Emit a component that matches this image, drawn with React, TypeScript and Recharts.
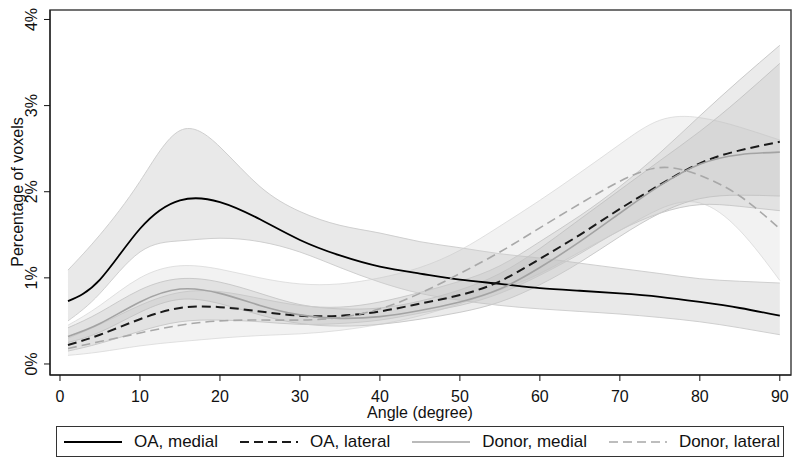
import { ComposedChart, Area, Line, XAxis, YAxis, Legend, ReferenceArea, Label } from 'recharts'

// angle (degree) and percentage of voxels
const angle = [1, 5, 10, 15, 20, 25, 30, 35, 40, 45, 50, 55, 60, 65, 70, 75, 80, 85, 90]

const oaMedial = [0.73, 0.98, 1.57, 1.90, 1.88, 1.68, 1.44, 1.26, 1.13, 1.05, 0.98, 0.93, 0.88, 0.85, 0.82, 0.78, 0.72, 0.65, 0.56]
const oaMedialLo = [0.50, 0.82, 1.30, 1.43, 1.46, 1.42, 1.30, 1.12, 0.95, 0.82, 0.74, 0.68, 0.64, 0.61, 0.58, 0.54, 0.49, 0.42, 0.34]
const oaMedialHi = [1.09, 1.50, 2.12, 2.71, 2.52, 2.06, 1.77, 1.61, 1.52, 1.42, 1.35, 1.28, 1.23, 1.17, 1.11, 1.05, 0.99, 0.96, 0.94]

const oaLateral = [0.22, 0.34, 0.52, 0.65, 0.66, 0.61, 0.56, 0.56, 0.61, 0.70, 0.80, 0.96, 1.22, 1.50, 1.80, 2.08, 2.33, 2.48, 2.58]
const oaLateralLo = [0.15, 0.24, 0.38, 0.49, 0.51, 0.49, 0.46, 0.47, 0.51, 0.59, 0.68, 0.82, 1.03, 1.28, 1.55, 1.75, 1.85, 1.83, 1.78]
const oaLateralHi = [0.30, 0.46, 0.68, 0.83, 0.84, 0.76, 0.68, 0.66, 0.72, 0.83, 0.96, 1.14, 1.42, 1.72, 2.06, 2.45, 2.88, 3.30, 3.70]

const donorMedial = [0.32, 0.47, 0.72, 0.87, 0.82, 0.68, 0.57, 0.53, 0.55, 0.62, 0.72, 0.87, 1.12, 1.42, 1.75, 2.07, 2.32, 2.43, 2.46]
const donorMedialLo = [0.25, 0.37, 0.60, 0.75, 0.70, 0.57, 0.47, 0.44, 0.46, 0.52, 0.60, 0.72, 0.92, 1.18, 1.48, 1.75, 1.92, 1.96, 1.95]
const donorMedialHi = [0.42, 0.60, 0.86, 0.99, 0.95, 0.82, 0.69, 0.64, 0.65, 0.73, 0.86, 1.05, 1.34, 1.68, 2.02, 2.36, 2.70, 3.08, 3.49]

const donorLateral = [0.18, 0.26, 0.36, 0.45, 0.50, 0.51, 0.51, 0.54, 0.64, 0.82, 1.05, 1.30, 1.58, 1.86, 2.12, 2.28, 2.19, 1.95, 1.57]
const donorLateralLo = [0.10, 0.14, 0.21, 0.26, 0.30, 0.33, 0.35, 0.39, 0.46, 0.56, 0.70, 0.86, 1.05, 1.30, 1.55, 1.80, 1.87, 1.55, 0.97]
const donorLateralHi = [0.45, 0.68, 1.00, 1.14, 1.10, 1.00, 0.93, 0.93, 1.00, 1.12, 1.32, 1.60, 1.90, 2.22, 2.55, 2.83, 2.86, 2.75, 2.60]

const xTicks = [0, 10, 20, 30, 40, 50, 60, 70, 80, 90]
const yTicks = [0, 1, 2, 3, 4]
const X_DOMAIN: [number, number] = [-1.25, 91.4]
const Y_DOMAIN: [number, number] = [-0.128, 4.11]

const FONT = '"Liberation Sans", Arial, sans-serif'

const rows = angle.map((a, i) => ({
  angle: a,
  oaMedial: oaMedial[i],
  oaMedialCI: [oaMedialLo[i], oaMedialHi[i]],
  oaLateral: oaLateral[i],
  oaLateralCI: [oaLateralLo[i], oaLateralHi[i]],
  donorMedial: donorMedial[i],
  donorMedialCI: [donorMedialLo[i], donorMedialHi[i]],
  donorLateral: donorLateral[i],
  donorLateralCI: [donorLateralLo[i], donorLateralHi[i]],
}))

const series = [
  { key: 'oaMedial', name: 'OA, medial', color: '#000', width: 1.8, dash: undefined },
  { key: 'oaLateral', name: 'OA, lateral', color: '#1a1a1a', width: 2, dash: '9 5' },
  { key: 'donorMedial', name: 'Donor, medial', color: '#a3a3a3', width: 1.6, dash: undefined },
  { key: 'donorLateral', name: 'Donor, lateral', color: '#a8a8a8', width: 1.6, dash: '9 5' },
]

const YTick = ({ x, y, payload }: any) => (
  <text x={x - 5} y={y} transform={`rotate(-90 ${x - 5} ${y})`} textAnchor="middle"
    fontSize={16} fontFamily={FONT} fill="#111">{`${payload.value}%`}</text>
)

const LegendBox = () => (
  <div style={{
    boxSizing: 'border-box', width: 728, height: 31, border: '1px solid #333',
    display: 'flex', alignItems: 'center', justifyContent: 'space-between',
    padding: '0 3px 0 7px', fontFamily: FONT, fontSize: 17, color: '#111', background: '#fff',
  }}>
    {series.map(s => (
      <div key={s.key} style={{ display: 'flex', alignItems: 'center' }}>
        <svg width={58} height={10}>
          <line x1={0} y1={5} x2={58} y2={5} stroke={s.color} strokeWidth={s.width} strokeDasharray={s.dash} />
        </svg>
        <span style={{ marginLeft: 12, whiteSpace: 'nowrap' }}>{s.name}</span>
      </div>
    ))}
  </div>
)

export default function App() {
  return (
    <div style={{ position: 'absolute', left: 0, top: 0, background: '#fff' }}>
      <ComposedChart width={800} height={471} data={rows} margin={{ top: 10, right: 9, bottom: 25, left: 10 }}>
        <XAxis dataKey="angle" type="number" domain={X_DOMAIN} ticks={xTicks} allowDataOverflow
          height={40} tickSize={6} tickMargin={10} stroke="#111"
          tick={{ fill: '#111', fontSize: 16, fontFamily: FONT }}>
          <Label content={() => (
            <text x={420} y={418} textAnchor="middle" fontSize={16} fontFamily={FONT} fill="#111">Angle (degree)</text>
          )} />
        </XAxis>
        <YAxis type="number" domain={Y_DOMAIN} ticks={yTicks} allowDataOverflow
          width={40} tickSize={6} stroke="#111" tick={<YTick />}>
          <Label content={() => (
            <text x={17} y={192} transform="rotate(-90 17 192)" textAnchor="middle" dominantBaseline="central"
              fontSize={16} fontFamily={FONT} fill="#111">Percentage of voxels</text>
          )} />
        </YAxis>

        <Area dataKey="donorLateralCI" type="natural" fill="#d4d4d4" fillOpacity={0.3} stroke="#dadada" strokeOpacity={0.8} strokeWidth={1} isAnimationActive={false} legendType="none" />
        <Area dataKey="oaMedialCI" type="natural" fill="#c4c4c4" fillOpacity={0.38} stroke="#cfcfcf" strokeWidth={1} isAnimationActive={false} legendType="none" />
        <Area dataKey="donorMedialCI" type="natural" fill="#bdbdbd" fillOpacity={0.3} stroke="#cacaca" strokeWidth={1} isAnimationActive={false} legendType="none" />
        <Area dataKey="oaLateralCI" type="natural" fill="#bdbdbd" fillOpacity={0.3} stroke="#cacaca" strokeWidth={1} isAnimationActive={false} legendType="none" />

        {series.map(s => (
          <Line key={s.key} dataKey={s.key} name={s.name} type="natural" stroke={s.color}
            strokeWidth={s.width} strokeDasharray={s.dash} dot={false} activeDot={false} isAnimationActive={false} />
        ))}

        <ReferenceArea x1={X_DOMAIN[0]} x2={X_DOMAIN[1]} y1={Y_DOMAIN[0]} y2={Y_DOMAIN[1]}
          fill="none" stroke="#444" strokeWidth={1.5} ifOverflow="visible" />

        <Legend content={<LegendBox />} wrapperStyle={{ position: 'absolute', left: 56, top: 426, width: 728, bottom: 'auto' }} />
      </ComposedChart>
    </div>
  )
}
